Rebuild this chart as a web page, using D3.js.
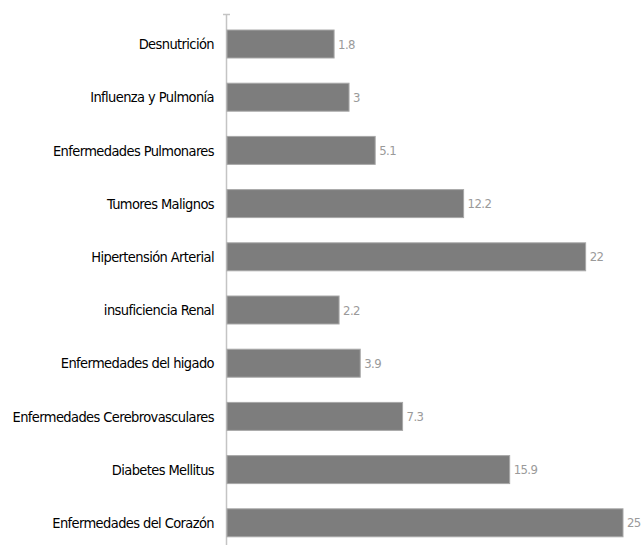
<!DOCTYPE html>
<html>
<head>
<meta charset="utf-8">
<script src="https://cdn.jsdelivr.net/npm/d3@7"></script>
<style>
  html, body { margin: 0; padding: 0; background: #ffffff; }
  svg { display: block; }
</style>
</head>
<body>
<div id="chart"></div>
<script>
const categories = [
  "Desnutrición",
  "Influenza y Pulmonía",
  "Enfermedades Pulmonares",
  "Tumores Malignos",
  "Hipertensión Arterial",
  "insuficiencia Renal",
  "Enfermedades del higado",
  "Enfermedades Cerebrovasculares",
  "Diabetes Mellitus",
  "Enfermedades del Corazón"
];
const values = [1.8, 3, 5.1, 12.2, 22, 2.2, 3.9, 7.3, 15.9, 25];
const valueLabels = ["1.8", "3", "5.1", "12.2", "22", "2.2", "3.9", "7.3", "15.9", "25"];
const xDomain = [-6.8, 25];

const W = 642, H = 545;
const svg = d3.select("#chart").append("svg").attr("width", W).attr("height", H);

const x = d3.scaleLinear().domain(xDomain).range([227, 623]);
const y = d3.scaleBand().domain(categories).range([17.4, 549.4]).paddingInner(0.474).paddingOuter(0.237);

// axis line
svg.append("line")
  .attr("x1", 226.5).attr("x2", 226.5)
  .attr("y1", 14).attr("y2", H)
  .attr("stroke", "#c4c4c4").attr("stroke-width", 1.5);
svg.append("line")
  .attr("x1", 223).attr("x2", 230)
  .attr("y1", 14.5).attr("y2", 14.5)
  .attr("stroke", "#c4c4c4").attr("stroke-width", 1.5);

const g = svg.append("g");
g.selectAll("rect.bar").data(values).join("rect")
  .attr("class", "bar")
  .attr("x", x(xDomain[0]))
  .attr("y", (d, i) => y(categories[i]))
  .attr("width", d => x(d) - x(xDomain[0]))
  .attr("height", y.bandwidth())
  .attr("fill", "#7d7d7d")
  .attr("stroke", "#a8a8a8")
  .attr("stroke-width", 1);

g.selectAll("text.val").data(values).join("text")
  .attr("class", "val")
  .attr("x", d => x(d) + 4)
  .attr("y", (d, i) => y(categories[i]) + y.bandwidth() / 2)
  .attr("dy", "0.36em")
  .attr("font-family", "'DejaVu Sans Condensed', sans-serif")
  .attr("font-size", 13)
  .attr("letter-spacing", "-0.6")
  .attr("fill", "#9a9a9a")
  .text((d, i) => valueLabels[i]);

g.selectAll("text.cat").data(categories).join("text")
  .attr("class", "cat")
  .attr("x", 214)
  .attr("y", d => y(d) + y.bandwidth() / 2)
  .attr("dy", "0.36em")
  .attr("text-anchor", "end")
  .attr("font-family", "'DejaVu Sans Condensed', sans-serif")
  .attr("font-size", 14.5)
  .attr("letter-spacing", "-0.6")
  .attr("fill", "#000000")
  .text(d => d);
</script>
</body>
</html>
